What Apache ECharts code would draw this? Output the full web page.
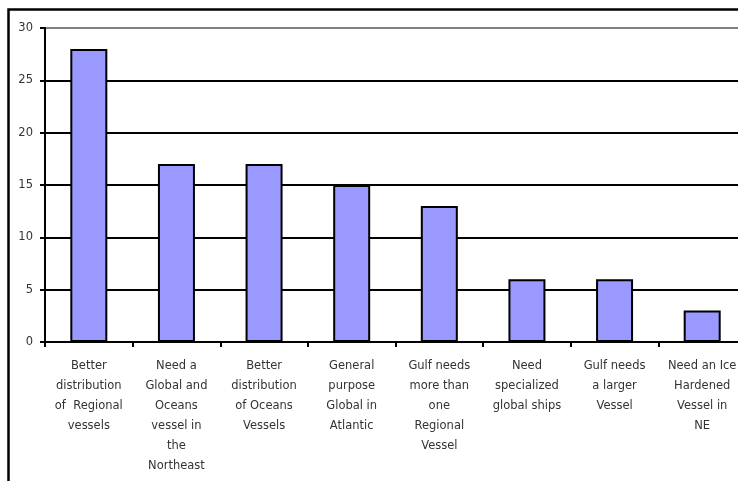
<!DOCTYPE html>
<html>
<head>
<meta charset="utf-8">
<script src="https://cdn.jsdelivr.net/npm/echarts@6/dist/echarts.min.js"></script>
<style>
  html, body { margin: 0; padding: 0; background: #fff; }
  #chart { width: 738px; height: 481px; }
</style>
</head>
<body>
<div id="chart"></div>
<script>
// Survey responses: reasons cited for new vessel needs
const categories = [
  'Better\ndistribution\nof  Regional\nvessels',
  'Need a\nGlobal and\nOceans\nvessel in\nthe\nNortheast',
  'Better\ndistribution\nof Oceans\nVessels',
  'General\npurpose\nGlobal in\nAtlantic',
  'Gulf needs\nmore than\none\nRegional\nVessel',
  'Need\nspecialized\nglobal ships',
  'Gulf needs\na larger\nVessel',
  'Need an Ice\nHardened\nVessel in\nNE'
];
const responses = [28, 17, 17, 15, 13, 6, 6, 3];
const yTicks = { min: 0, max: 30, interval: 5 };

const chart = echarts.init(document.getElementById('chart'), null, { renderer: 'canvas' });
const font = 'DejaVu Sans, Verdana, sans-serif';

chart.setOption({
  animation: false,
  backgroundColor: '#fff',
  // plot area runs past the right edge of the frame
  grid: { left: 45, top: 28, width: 701, bottom: 139, containLabel: false, outerBoundsMode: 'none' },
  xAxis: {
    type: 'category',
    data: categories,
    axisLine: { lineStyle: { color: '#000', width: 2 } },
    axisTick: { show: true, length: 5, lineStyle: { color: '#000', width: 2 }, alignWithLabel: false },
    axisLabel: {
      interval: 0, margin: 14, color: '#333', fontFamily: font, fontSize: 11.5,
      lineHeight: 20, align: 'center'
    }
  },
  yAxis: {
    type: 'value',
    min: yTicks.min, max: yTicks.max, interval: yTicks.interval,
    axisLine: { show: true, lineStyle: { color: '#000', width: 2 } },
    axisTick: { show: true, length: 5, lineStyle: { color: '#000', width: 2 } },
    axisLabel: { margin: 12, color: '#333', fontFamily: font, fontSize: 11.5 },
    splitLine: {
      show: true,
      lineStyle: { color: ['#000', '#000', '#000', '#000', '#000', '#000', '#808080'], width: 2 }
    }
  },
  series: [{
    type: 'bar',
    data: responses,
    barWidth: 37,
    itemStyle: { color: '#9999ff', borderColor: '#000', borderWidth: 2 }
  }],
  graphic: [{
    type: 'rect',
    shape: { x: 8.5, y: 9.5, width: 800, height: 600 },
    style: { fill: null, stroke: '#000', lineWidth: 2.5 },
    silent: true
  }]
});
</script>
</body>
</html>
